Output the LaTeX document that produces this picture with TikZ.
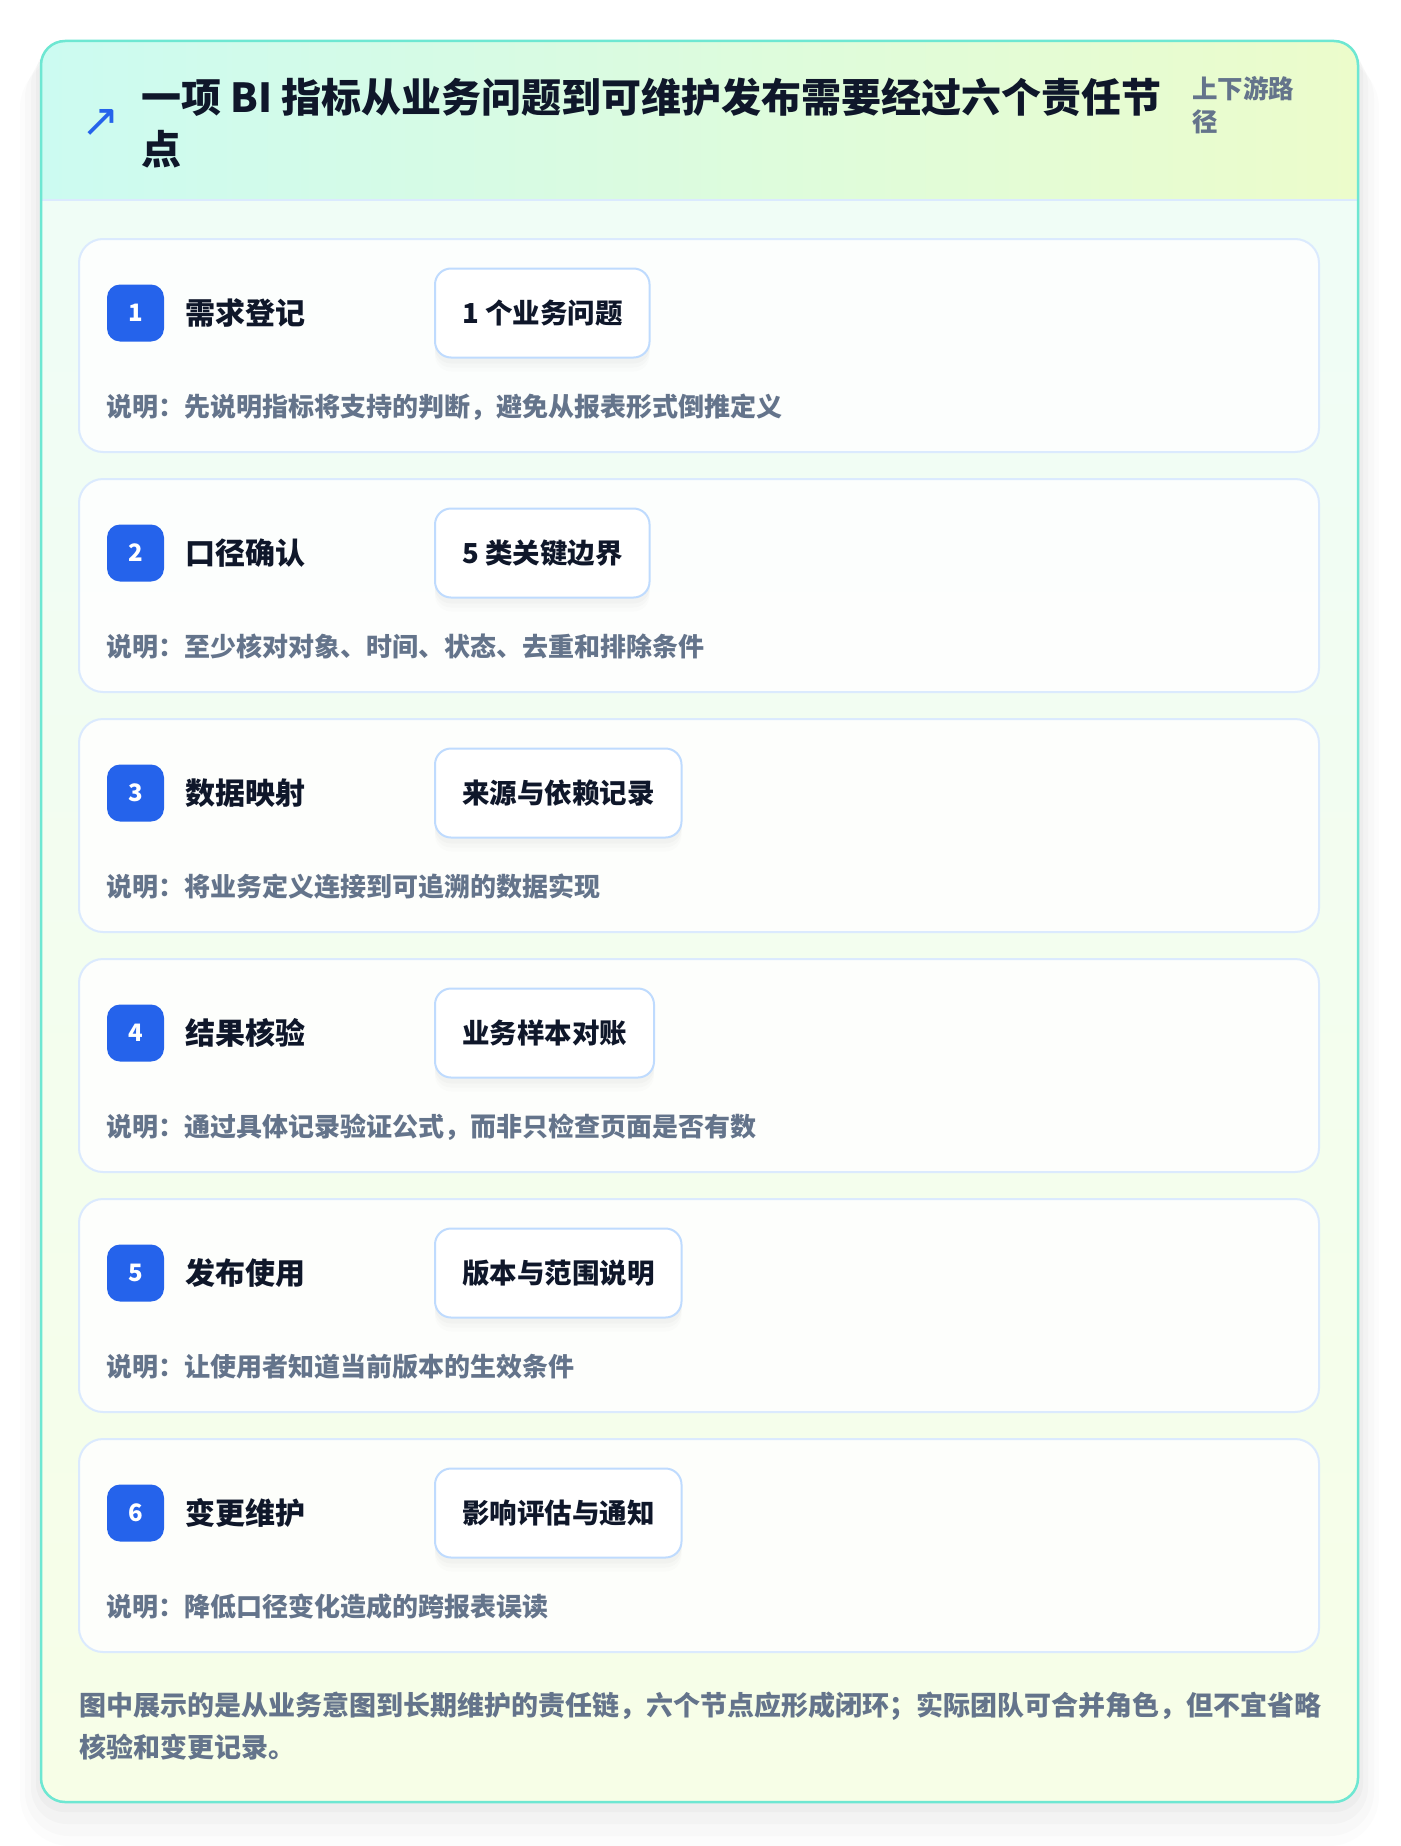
\documentclass[tikz,border=0pt]{standalone}
\usepackage{fontspec}
\setmainfont{Noto Sans CJK SC}
\newfontfamily\symbolfont{DejaVu Sans}
\usetikzlibrary{positioning}
\definecolor{ink}{HTML}{0F172A}
\definecolor{muted}{HTML}{64748B}
\definecolor{accent}{HTML}{2563EB}
\definecolor{frame}{HTML}{6EE7D2}
\definecolor{cardline}{HTML}{DBEAFE}
\definecolor{pillline}{HTML}{BFDBFE}
\definecolor{headleft}{HTML}{CCFBF1}
\definecolor{headright}{HTML}{ECFCCB}
\definecolor{bodytop}{HTML}{EFFDF8}
\definecolor{bodybottom}{HTML}{F7FEE7}
\tikzset{
  stepcard/.style={rectangle,draw=cardline,line width=2pt,rounded corners=24pt,
    fill=white,fill opacity=0.85,minimum width=1240pt,minimum height=213pt,
    inner sep=0pt,outer sep=0pt},
  badge/.style={rectangle,fill=accent,rounded corners=13pt,minimum size=57pt,
    inner sep=0pt,text=white,font=\fontsize{24}{24}\selectfont\bfseries},
  steptitle/.style={anchor=west,inner sep=0pt,text=ink,
    font=\fontsize{30}{30}\selectfont\bfseries},
  pill/.style={rectangle,draw=pillline,line width=2pt,rounded corners=16pt,
    fill=white,minimum height=89pt,inner xsep=27pt,anchor=west,text=ink,
    font=\fontsize{27.5}{27.5}\selectfont\bfseries,
    preaction={fill=black,opacity=0.012,transform canvas={yshift=-14pt}},
    preaction={fill=black,opacity=0.015,transform canvas={yshift=-10pt}},
    preaction={fill=black,opacity=0.02,transform canvas={yshift=-6pt}}},
  note/.style={anchor=west,inner sep=0pt,text=muted,
    font=\fontsize{26}{26}\selectfont\bfseries},
  footnote/.style={anchor=west,inner sep=0pt,text=muted,
    font=\fontsize{27}{27}\selectfont\bfseries}
}

\begin{document}
\begin{tikzpicture}[x=1pt,y=-1pt]
  \useasboundingbox (0,0) rectangle (1400,1846);
  \fill[white] (0,0) rectangle (1400,1846);
  % soft shadow of the panel
  \fill[black,opacity=0.012,rounded corners=50pt] (20,58) rectangle (1379,1846);
  \fill[black,opacity=0.015,rounded corners=44pt] (25,54) rectangle (1374,1836);
  \fill[black,opacity=0.02,rounded corners=36pt] (31,49) rectangle (1368,1824);
  \fill[black,opacity=0.025,rounded corners=28pt] (36,45) rectangle (1363,1812);
  % panel body and header
  \shade[top color=bodytop,bottom color=bodybottom,rounded corners=24pt]
    (41,41) rectangle (1358,1802);
  \begin{scope}
    \clip[rounded corners=24pt] (41,41) rectangle (1358,1802);
    \shade[left color=headleft,right color=headright] (41,41) rectangle (1358,200);
  \end{scope}
  \draw[cardline,line width=2pt] (41,200) -- (1358,200);
  \draw[frame,line width=2.5pt,rounded corners=24pt] (41,41) rectangle (1358,1802);

  \node (icon) at (101,123) [text=accent,font=\symbolfont\fontsize{46}{46}\selectfont] {↗};
  \node (title) at (141,123.5) [anchor=west,align=left,inner sep=0pt,text=ink,
    font=\fontsize{40}{52}\selectfont\bfseries]
    {一项 BI 指标从业务问题到可维护发布需要经过六个责任节\\点};
  \node (tag) at (1192,105.5) [anchor=west,align=left,inner sep=0pt,text=muted,
    font=\fontsize{25.5}{33}\selectfont\bfseries] {上下游路\\径};

  % step 1
  \node (c1) [stepcard] at (699,345.5) {};
  \node (n1) [badge] at ([shift={(56.5,74)}]c1.north west) {1};
  \node (t1) [steptitle] at ([shift={(106,74)}]c1.north west) {需求登记};
  \node (p1) [pill] at ([shift={(355,74)}]c1.north west) {1 个业务问题};
  \node (d1) [note] at ([shift={(27,168)}]c1.north west)
    {说明：先说明指标将支持的判断，避免从报表形式倒推定义};
  % step 2
  \node (c2) [stepcard,below=27pt of c1] {};
  \node (n2) [badge] at ([shift={(56.5,74)}]c2.north west) {2};
  \node (t2) [steptitle] at ([shift={(106,74)}]c2.north west) {口径确认};
  \node (p2) [pill] at ([shift={(355,74)}]c2.north west) {5 类关键边界};
  \node (d2) [note] at ([shift={(27,168)}]c2.north west)
    {说明：至少核对对象、时间、状态、去重和排除条件};
  % step 3
  \node (c3) [stepcard,below=27pt of c2] {};
  \node (n3) [badge] at ([shift={(56.5,74)}]c3.north west) {3};
  \node (t3) [steptitle] at ([shift={(106,74)}]c3.north west) {数据映射};
  \node (p3) [pill] at ([shift={(355,74)}]c3.north west) {来源与依赖记录};
  \node (d3) [note] at ([shift={(27,168)}]c3.north west)
    {说明：将业务定义连接到可追溯的数据实现};
  % step 4
  \node (c4) [stepcard,below=27pt of c3] {};
  \node (n4) [badge] at ([shift={(56.5,74)}]c4.north west) {4};
  \node (t4) [steptitle] at ([shift={(106,74)}]c4.north west) {结果核验};
  \node (p4) [pill] at ([shift={(355,74)}]c4.north west) {业务样本对账};
  \node (d4) [note] at ([shift={(27,168)}]c4.north west)
    {说明：通过具体记录验证公式，而非只检查页面是否有数};
  % step 5
  \node (c5) [stepcard,below=27pt of c4] {};
  \node (n5) [badge] at ([shift={(56.5,74)}]c5.north west) {5};
  \node (t5) [steptitle] at ([shift={(106,74)}]c5.north west) {发布使用};
  \node (p5) [pill] at ([shift={(355,74)}]c5.north west) {版本与范围说明};
  \node (d5) [note] at ([shift={(27,168)}]c5.north west)
    {说明：让使用者知道当前版本的生效条件};
  % step 6
  \node (c6) [stepcard,below=27pt of c5] {};
  \node (n6) [badge] at ([shift={(56.5,74)}]c6.north west) {6};
  \node (t6) [steptitle] at ([shift={(106,74)}]c6.north west) {变更维护};
  \node (p6) [pill] at ([shift={(355,74)}]c6.north west) {影响评估与通知};
  \node (d6) [note] at ([shift={(27,168)}]c6.north west)
    {说明：降低口径变化造成的跨报表误读};

  \node (f1) [footnote] at (79,1706)
    {图中展示的是从业务意图到长期维护的责任链，六个节点应形成闭环；实际团队可合并角色，但不宜省略};
  \node (f2) [footnote] at (79,1747) {核验和变更记录。};
\end{tikzpicture}
\end{document}
